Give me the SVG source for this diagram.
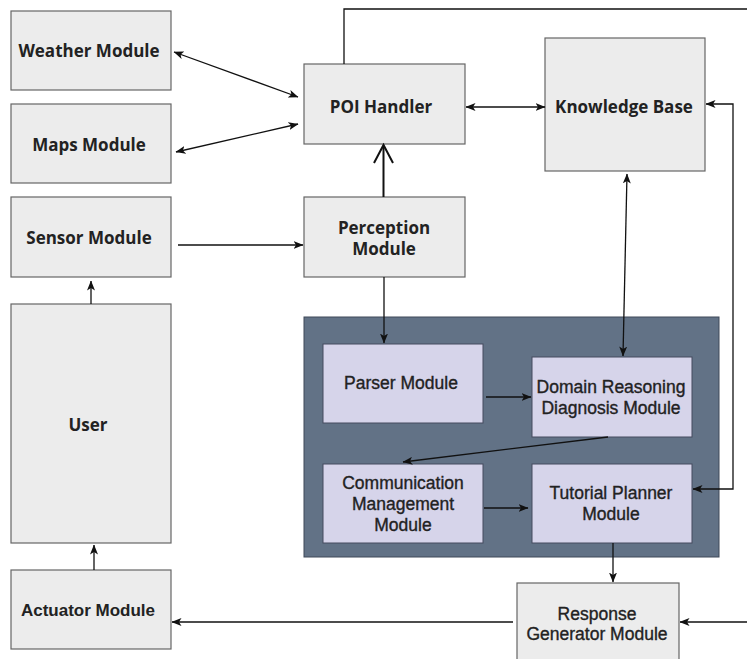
<svg xmlns="http://www.w3.org/2000/svg" width="747" height="659" viewBox="0 0 747 659">
<defs>
<marker id="ah" viewBox="0 0 10 8" markerWidth="10" markerHeight="8" refX="9.5" refY="4" orient="auto-start-reverse" markerUnits="userSpaceOnUse">
<path d="M0,0 L10,4 L0,8 L2.5,4 z" fill="#111"/>
</marker>
</defs>
<style>
.box{fill:#ececec;stroke:#666;stroke-width:1.2}
.inner{fill:#d6d4ea;stroke:#444a5e;stroke-width:1}
.panel{fill:#627286;stroke:#3e4858;stroke-width:1}
.t1{font-family:"Open Sans","DejaVu Sans",sans-serif;font-weight:700;font-size:17px;fill:#222;text-anchor:middle}
.t2{font-family:"Liberation Sans",Arial,sans-serif;font-size:17.5px;fill:#222;stroke:#222;stroke-width:0.35;text-anchor:middle}
.t3{font-family:"Liberation Sans",Arial,sans-serif;font-weight:700;font-size:17px;fill:#222;text-anchor:middle}
.c{fill:none;stroke:#111;stroke-width:1.3}
</style>
<rect width="747" height="659" fill="#ffffff"/>

<g id="panel"><rect class="panel" x="304" y="317" width="415" height="240"/></g>

<g id="weather"><rect class="box" x="11" y="11" width="160" height="79"/><text class="t1" x="89" y="57">Weather Module</text></g>
<g id="maps"><rect class="box" x="11" y="104" width="160" height="79"/><text class="t1" x="89" y="151">Maps Module</text></g>
<g id="sensor"><rect class="box" x="11" y="197" width="160" height="80"/><text class="t1" x="89" y="244">Sensor Module</text></g>
<g id="user"><rect class="box" x="11" y="304" width="160" height="239"/><text class="t1" x="88" y="431">User</text></g>
<g id="actuator"><rect class="box" x="11" y="570" width="160" height="79"/><text class="t3" x="88" y="616">Actuator Module</text></g>
<g id="poi"><rect class="box" x="304" y="64" width="161" height="80"/><text class="t1" x="381" y="113">POI Handler</text></g>
<g id="kb"><rect class="box" x="545" y="38" width="160" height="133"/><text class="t1" x="624" y="113">Knowledge Base</text></g>
<g id="perception"><rect class="box" x="304" y="197" width="161" height="80"/><text class="t1" x="384" y="234">Perception</text><text class="t1" x="384" y="255">Module</text></g>
<g id="parser"><rect class="inner" x="323" y="344" width="160" height="79"/><text class="t2" x="401" y="389">Parser Module</text></g>
<g id="domain"><rect class="inner" x="532" y="357" width="160" height="80"/><text class="t2" x="611" y="393">Domain Reasoning</text><text class="t2" x="611" y="414">Diagnosis Module</text></g>
<g id="comm"><rect class="inner" x="323" y="464" width="160" height="79"/><text class="t2" x="403" y="489">Communication</text><text class="t2" x="403" y="510">Management</text><text class="t2" x="403" y="531">Module</text></g>
<g id="tutorial"><rect class="inner" x="532" y="464" width="160" height="79"/><text class="t2" x="611" y="499">Tutorial Planner</text><text class="t2" x="611" y="520">Module</text></g>
<g id="response"><rect class="box" x="517" y="583" width="162" height="84"/><text class="t2" x="597" y="620">Response</text><text class="t2" x="597" y="640">Generator Module</text></g>

<g id="connectors">
<line class="c" x1="174" y1="52" x2="298" y2="97" marker-start="url(#ah)" marker-end="url(#ah)"/>
<line class="c" x1="176" y1="152" x2="298" y2="124" marker-start="url(#ah)" marker-end="url(#ah)"/>
<line class="c" x1="466" y1="107" x2="545" y2="107" marker-start="url(#ah)" marker-end="url(#ah)"/>
<polyline class="c" points="344,64 344,9 747,9"/>
<line x1="383.5" y1="197" x2="383.5" y2="146" stroke="#111" stroke-width="2"/>
<polyline points="374,163 383.5,145 393,163" fill="none" stroke="#111" stroke-width="2"/>
<line class="c" x1="178" y1="245" x2="303" y2="245" marker-end="url(#ah)"/>
<line class="c" x1="91" y1="304" x2="91" y2="281" marker-end="url(#ah)"/>
<line class="c" x1="94" y1="570" x2="94" y2="545" marker-end="url(#ah)"/>
<line class="c" x1="384" y1="277" x2="384" y2="343" marker-end="url(#ah)"/>
<line class="c" x1="627" y1="174" x2="623" y2="356" marker-start="url(#ah)" marker-end="url(#ah)"/>
<polyline class="c" points="706,104 733,104 733,489 693,489" marker-start="url(#ah)" marker-end="url(#ah)"/>
<line class="c" x1="486" y1="397" x2="531" y2="397" marker-end="url(#ah)"/>
<line class="c" x1="608" y1="437" x2="403" y2="462" marker-end="url(#ah)"/>
<line class="c" x1="484" y1="508" x2="528" y2="508" marker-end="url(#ah)"/>
<line class="c" x1="613" y1="543" x2="613" y2="582" marker-end="url(#ah)"/>
<line class="c" x1="513" y1="622" x2="172" y2="622" marker-end="url(#ah)"/>
<line class="c" x1="747" y1="622" x2="680" y2="622" marker-end="url(#ah)"/>
</g>
</svg>
